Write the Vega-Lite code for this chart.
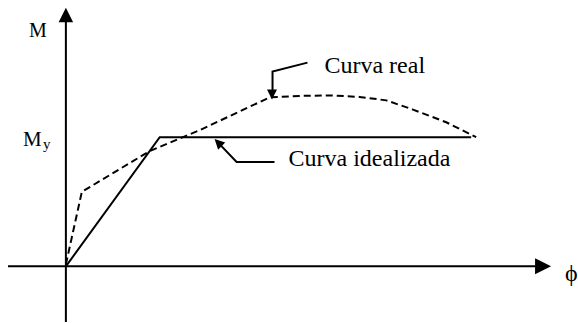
{
  "$schema": "https://vega.github.io/schema/vega-lite/v6.json",
  "width": 578,
  "height": 323,
  "autosize": {"type": "fit", "contains": "padding"},
  "padding": 0,
  "background": "white",
  "config": {"view": {"stroke": null}},
  "datasets": {
    "axes": [
      {"x": -58, "y": 0, "x2": 470, "y2": 0},
      {"x": 0, "y": -56, "x2": 0, "y2": 248}
    ],
    "ideal": [
      {"phi": 0, "m": 0, "o": 1},
      {"phi": 94, "m": 130, "o": 2},
      {"phi": 406, "m": 130, "o": 3}
    ],
    "real": [
      {"phi": 0, "m": 2, "o": 1},
      {"phi": 16, "m": 75, "o": 2},
      {"phi": 84, "m": 116, "o": 3},
      {"phi": 134, "m": 137, "o": 4},
      {"phi": 204, "m": 170, "o": 5},
      {"phi": 234, "m": 171.5, "o": 6},
      {"phi": 267, "m": 172, "o": 7},
      {"phi": 294, "m": 170.5, "o": 8},
      {"phi": 321, "m": 167, "o": 9},
      {"phi": 347, "m": 158, "o": 10},
      {"phi": 381, "m": 145, "o": 11},
      {"phi": 411, "m": 130, "o": 12}
    ],
    "leaders": [
      {"g": "real", "x": 242, "y": 205, "o": 1},
      {"g": "real", "x": 207, "y": 196, "o": 2},
      {"g": "real", "x": 207, "y": 176, "o": 3},
      {"g": "ideal", "x": 209, "y": 105, "o": 1},
      {"g": "ideal", "x": 171, "y": 105, "o": 2},
      {"g": "ideal", "x": 153, "y": 124, "o": 3}
    ],
    "heads": [
      {"x": 0, "y": 253, "a": 0, "s": 210},
      {"x": 478, "y": 0, "a": 90, "s": 256},
      {"x": 206.5, "y": 173, "a": 180, "s": 100},
      {"x": 152.5, "y": 124.5, "a": 315, "s": 100}
    ],
    "labels": [
      {"t": "Curva real", "x": 259, "y": 195, "fs": 24, "al": "left"},
      {"t": "Curva idealizada", "x": 223, "y": 101, "fs": 24, "al": "left"},
      {"t": "M", "x": -37, "y": 231, "fs": 20, "al": "left"},
      {"t": "M", "x": -43, "y": 121, "fs": 21, "al": "left"},
      {"t": "y", "x": -23, "y": 118, "fs": 15, "al": "left"},
      {"t": "ϕ", "x": 500, "y": -15, "fs": 24, "al": "left"}
    ]
  },
  "layer": [
    {
      "data": {"name": "axes"},
      "mark": {"type": "rule", "color": "black", "strokeWidth": 2},
      "encoding": {
        "x": {"field": "x", "type": "quantitative", "scale": {"domain": [-66, 512], "nice": false, "zero": false}, "axis": null},
        "y": {"field": "y", "type": "quantitative", "scale": {"domain": [-55, 268], "nice": false, "zero": false}, "axis": null},
        "x2": {"field": "x2"},
        "y2": {"field": "y2"}
      }
    },
    {
      "data": {"name": "ideal"},
      "mark": {"type": "line", "color": "black", "strokeWidth": 2},
      "encoding": {
        "x": {"field": "phi", "type": "quantitative", "scale": {"domain": [-66, 512], "nice": false, "zero": false}, "axis": null},
        "y": {"field": "m", "type": "quantitative", "scale": {"domain": [-55, 268], "nice": false, "zero": false}, "axis": null},
        "order": {"field": "o"}
      }
    },
    {
      "data": {"name": "real"},
      "mark": {"type": "line", "color": "black", "strokeWidth": 2, "strokeDash": [7, 4]},
      "encoding": {
        "x": {"field": "phi", "type": "quantitative", "scale": {"domain": [-66, 512], "nice": false, "zero": false}, "axis": null},
        "y": {"field": "m", "type": "quantitative", "scale": {"domain": [-55, 268], "nice": false, "zero": false}, "axis": null},
        "order": {"field": "o"}
      }
    },
    {
      "data": {"name": "leaders"},
      "mark": {"type": "line", "color": "black", "strokeWidth": 2},
      "encoding": {
        "x": {"field": "x", "type": "quantitative", "scale": {"domain": [-66, 512], "nice": false, "zero": false}, "axis": null},
        "y": {"field": "y", "type": "quantitative", "scale": {"domain": [-55, 268], "nice": false, "zero": false}, "axis": null},
        "detail": {"field": "g"},
        "order": {"field": "o"}
      }
    },
    {
      "data": {"name": "heads"},
      "mark": {"type": "point", "shape": "M-1,1L0,-1L1,1Z", "filled": true, "color": "black", "opacity": 1},
      "encoding": {
        "x": {"field": "x", "type": "quantitative", "scale": {"domain": [-66, 512], "nice": false, "zero": false}, "axis": null},
        "y": {"field": "y", "type": "quantitative", "scale": {"domain": [-55, 268], "nice": false, "zero": false}, "axis": null},
        "angle": {"field": "a", "type": "quantitative", "scale": null},
        "size": {"field": "s", "type": "quantitative", "scale": null}
      }
    },
    {
      "data": {"name": "labels"},
      "mark": {"type": "text", "color": "black", "font": "Liberation Serif", "baseline": "alphabetic", "align": "left"},
      "encoding": {
        "x": {"field": "x", "type": "quantitative", "scale": {"domain": [-66, 512], "nice": false, "zero": false}, "axis": null},
        "y": {"field": "y", "type": "quantitative", "scale": {"domain": [-55, 268], "nice": false, "zero": false}, "axis": null},
        "text": {"field": "t"},
        "size": {"field": "fs", "type": "quantitative", "scale": null}
      }
    }
  ]
}
